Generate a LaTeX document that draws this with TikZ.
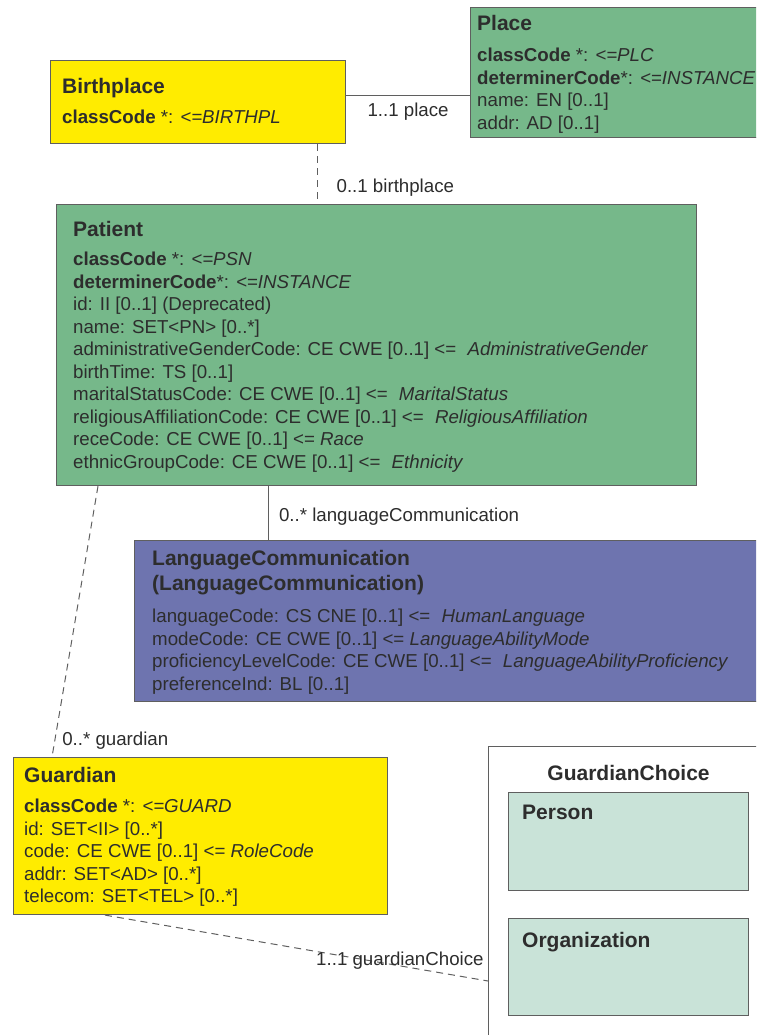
\documentclass[tikz,border=0pt]{standalone}
\usepackage{fontspec}
\setmainfont{Liberation Sans}
\usetikzlibrary{positioning,calc}
\definecolor{sun}{RGB}{255,236,0}
\definecolor{sage}{RGB}{118,184,138}
\definecolor{slate}{RGB}{110,116,175}
\definecolor{mint}{RGB}{201,227,216}
\definecolor{rim}{RGB}{95,95,95}
\definecolor{ink}{RGB}{45,45,45}
\tikzset{
  cls/.style={draw=rim,fill=#1,line width=1.1pt,anchor=north west,inner sep=0pt},
  cls/.default=sage,
  attrs/.style={anchor=north west,inner sep=0pt,align=left,text=ink,
    font=\fontsize{18.7}{22.5}\selectfont},
  assoc/.style={draw=rim,line width=1pt},
  dep/.style={assoc,dash pattern=on 7pt off 5pt},
  tag/.style={font=\fontsize{18.7}{20}\selectfont,text=ink,inner sep=0pt},
}
\newcommand{\ttl}[1]{{\fontsize{21}{24}\selectfont\bfseries #1}}
\newcommand{\gap}{\hspace{0.6em}}

\begin{document}
\begin{tikzpicture}[x=1pt,y=-1pt]
  \useasboundingbox (0,0) rectangle (756,1035);
  \clip (0,0) rectangle (756,1035);
  % class boxes
  \node[cls=sun,minimum width=295pt,minimum height=83pt] (birthplace) at (50,60) {};
  \node[cls=sage,minimum width=330pt,minimum height=130pt] (place) at (470,7) {};
  \node[cls=sage,minimum width=640pt,minimum height=281pt] (patient) at (56,204) {};
  \node[cls=slate,minimum width=640pt,minimum height=161pt] (langcomm) at (134,540) {};
  \node[cls=sun,minimum width=374pt,minimum height=157pt] (guardian) at (13,757) {};
  \node[cls=white,minimum width=280pt,minimum height=320pt] (choice) at (488,746) {};
  \node[cls=mint,minimum width=240pt,minimum height=98pt] (person) at (508,792) {};
  \node[cls=mint,minimum width=240pt,minimum height=97pt] (organization) at (508,918) {};

  % class texts
  \node[attrs] (birthplaceText) at ([xshift=12pt,yshift=-18pt]birthplace.north west)
    {\ttl{Birthplace}\\[8pt]
     \textbf{classCode} *: \textit{<=BIRTHPL}};
  \node[attrs] (placeText) at ([xshift=7pt,yshift=-8pt]place.north west)
    {\ttl{Place}\\[9pt]
     \textbf{classCode} *: \textit{<=PLC}\\
     \textbf{determinerCode}*: \textit{<=INSTANCE}\\
     name: EN [0..1]\\
     addr: AD [0..1]};
  \node[attrs] (patientText) at ([xshift=17pt,yshift=-17pt]patient.north west)
    {\ttl{Patient}\\[7pt]
     \textbf{classCode} *: \textit{<=PSN}\\
     \textbf{determinerCode}*: \textit{<=INSTANCE}\\
     id: II [0..1] (Deprecated)\\
     name: SET<PN> [0..*]\\
     administrativeGenderCode: CE CWE [0..1] <=\gap \textit{AdministrativeGender}\\
     birthTime: TS [0..1]\\
     maritalStatusCode: CE CWE [0..1] <=\gap \textit{MaritalStatus}\\
     religiousAffiliationCode: CE CWE [0..1] <=\gap \textit{ReligiousAffiliation}\\
     receCode: CE CWE [0..1] <= \textit{Race}\\
     ethnicGroupCode: CE CWE [0..1] <=\gap \textit{Ethnicity}};
  \node[attrs] (langcommText) at ([xshift=18pt,yshift=-10pt]langcomm.north west)
    {\ttl{LanguageCommunication}\\[2.5pt]
     \ttl{(LanguageCommunication)}\\[10pt]
     languageCode: CS CNE [0..1] <=\gap \textit{HumanLanguage}\\
     modeCode: CE CWE [0..1] <= \textit{LanguageAbilityMode}\\
     proficiencyLevelCode: CE CWE [0..1] <=\gap \textit{LanguageAbilityProficiency}\\
     preferenceInd: BL [0..1]};
  \node[attrs] (guardianText) at ([xshift=11pt,yshift=-10pt]guardian.north west)
    {\ttl{Guardian}\\[8pt]
     \textbf{classCode} *: \textit{<=GUARD}\\
     id: SET<II> [0..*]\\
     code: CE CWE [0..1] <= \textit{RoleCode}\\
     addr: SET<AD> [0..*]\\
     telecom: SET<TEL> [0..*]};
  \node[attrs,anchor=north] (choiceText) at ([yshift=-19pt]choice.north) {\ttl{GuardianChoice}};
  \node[attrs] (personText) at ([xshift=14pt,yshift=-13pt]person.north west) {\ttl{Person}};
  \node[attrs] (organizationText) at ([xshift=14pt,yshift=-14pt]organization.north west) {\ttl{Organization}};

  % associations
  \draw[assoc] ([yshift=6.5pt]birthplace.east) -- ([yshift=6.5pt]birthplace.east -| place.west)
    node[tag,pos=0.5,below=7pt] (placeTag) {1..1 place};
  \coordinate (bpFoot) at ([xshift=-29pt]birthplace.south east);
  \draw[dep] (bpFoot) -- (bpFoot |- patient.north)
    node[tag,pos=0.72,right=19pt] (birthplaceTag) {0..1 birthplace};
  \coordinate (ptFoot) at ([xshift=-108pt]patient.south);
  \draw[assoc] (ptFoot) -- (ptFoot |- langcomm.north)
    node[tag,pos=0.56,right=10pt] (langTag) {0..* languageCommunication};
  \draw[dep] ([xshift=42pt]patient.south west) -- ([xshift=39pt]guardian.north west)
    node[tag,pos=0.94,right=7pt] (guardianTag) {0..* guardian};
  \draw[dep] ([xshift=92pt]guardian.south west) -- ([yshift=-235pt]choice.north west)
    node[tag,pos=0.77,yshift=5.6pt] (choiceTag) {1..1 guardianChoice};
\end{tikzpicture}
\end{document}
